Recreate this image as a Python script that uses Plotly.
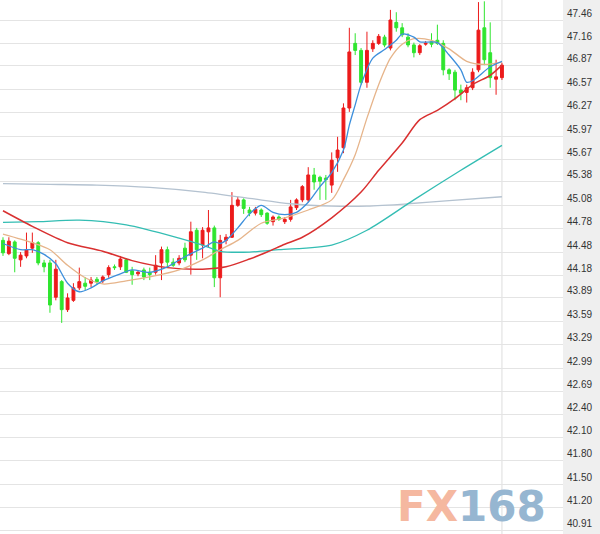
import plotly.graph_objects as go

# ---------------- data ----------------
idx = list(range(86))
opens = [44.63,44.46,44.61,44.38,44.43,44.53,44.60,44.34,44.34,43.90,
         44.10,43.74,43.86,44.02,44.08,44.08,44.13,44.11,44.19,44.29,
         44.29,44.38,44.24,44.20,44.25,44.22,44.22,44.34,44.51,44.35,
         44.34,44.53,44.44,44.76,44.57,44.74,44.79,44.15,44.63,44.67,
         45.08,45.15,45.02,44.98,45.02,44.98,44.87,44.93,44.87,44.90,
         45.05,45.15,45.15,45.47,45.44,45.43,45.34,45.69,45.82,46.33,
         47.16,47.07,46.66,47.09,47.16,47.24,47.10,47.43,47.36,47.24,
         47.14,47.04,47.15,47.18,47.20,47.16,46.82,46.79,46.56,46.53,
         46.59,46.82,47.36,47.04,46.70,46.72]
highs = [44.67,44.67,44.63,44.48,44.73,44.73,44.62,44.38,44.38,44.38,
         44.12,43.95,44.08,44.28,44.16,44.16,44.16,44.18,44.31,44.32,
         44.43,44.40,44.29,44.25,44.28,44.28,44.44,44.55,44.55,44.40,
         44.44,44.60,44.87,44.79,44.80,45.02,44.82,44.70,44.71,45.25,
         45.19,45.17,45.06,45.06,45.04,44.99,44.95,44.95,44.93,45.15,
         45.17,45.34,45.57,45.56,45.46,45.47,45.76,45.96,46.39,47.36,
         47.29,47.10,47.31,47.20,47.28,47.27,47.59,47.56,47.42,47.29,
         47.17,47.15,47.19,47.29,47.40,47.20,46.84,46.82,46.63,46.63,
         46.84,47.69,47.70,47.43,46.95,46.91]
lows = [44.43,44.44,44.22,44.29,44.40,44.47,44.31,44.22,43.70,43.86,
        43.57,43.71,43.84,43.99,43.99,44.03,44.06,44.08,44.15,44.25,
        44.25,44.21,44.06,44.17,44.12,44.12,44.19,44.12,44.28,44.29,
        44.31,44.35,44.19,44.38,44.40,44.54,44.03,43.90,44.58,44.66,
        45.06,44.97,44.94,44.95,44.93,44.83,44.82,44.88,44.84,44.87,
        45.02,45.12,45.12,45.28,45.15,45.15,45.24,45.51,45.75,46.28,
        47.01,46.63,46.59,47.05,47.14,47.11,47.07,47.31,47.24,47.11,
        46.98,47.01,47.13,47.11,47.14,46.75,46.69,46.43,46.43,46.40,
        46.56,46.79,46.88,46.59,46.50,46.69]
closes = [44.47,44.62,44.40,44.44,44.51,44.60,44.34,44.29,43.80,44.26,
          43.74,43.89,44.02,44.10,44.04,44.12,44.10,44.16,44.28,44.28,
          44.39,44.22,44.19,44.22,44.16,44.19,44.31,44.51,44.35,44.31,
          44.40,44.38,44.74,44.51,44.76,44.79,44.15,44.63,44.67,45.08,
          45.15,45.04,44.98,45.03,44.96,44.85,44.93,44.90,44.90,45.06,
          45.15,45.32,45.47,45.38,45.39,45.41,45.66,45.79,46.33,47.05,
          47.07,46.66,47.07,47.16,47.25,47.14,47.46,47.36,47.27,47.14,
          47.04,47.13,47.16,47.15,47.16,46.82,46.77,46.56,46.52,46.59,
          46.79,47.33,46.95,46.72,46.73,46.88]

# moving-average lines (read at selected candle positions)
ma5_x = [0,3,5,7,9,11,13,15,17,20,22,25,28,31,34,36,37,38,40,42,44,46,48,50,
         52,54,56,58,59,60,61,63,65,67,68,70,71,74,76,78,79,80,83,85]
ma5_y = [44.59,44.51,44.51,44.45,44.33,44.08,43.97,44.02,44.11,44.20,44.25,
         44.22,44.29,44.42,44.53,44.61,44.59,44.63,44.79,44.97,45.08,44.99,
         44.96,44.99,45.12,45.32,45.50,45.79,46.11,46.37,46.63,46.97,47.08,
         47.20,47.28,47.24,47.18,47.17,47.01,46.82,46.66,46.68,46.86,46.93]

ma10_x = [0,5,8,11,14,17,21,25,30,34,37,40,44,48,52,56,58,60,62,64,66,68,70,
          73,76,79,82,85]
ma10_y = [44.71,44.60,44.51,44.31,44.15,44.07,44.11,44.16,44.25,44.38,44.51,
          44.63,44.85,44.92,45.02,45.15,45.41,45.73,46.20,46.63,46.97,47.15,
          47.22,47.20,47.09,46.93,46.89,46.92]

ma20_x = [0,5,11,17,22,28,34,38,42,45,48,51,56,61,64,68,71,74,77,80,83,85]
ma20_y = [45.01,44.81,44.60,44.49,44.37,44.28,44.26,44.29,44.39,44.48,44.58,
          44.67,44.92,45.25,45.53,45.88,46.18,46.30,46.45,46.63,46.75,46.88]

ma60_x = [0,6,13,21,30,34,37,42,47,56,62,70,78,85]
ma60_y = [44.86,44.87,44.89,44.83,44.66,44.57,44.49,44.48,44.51,44.57,44.76,
          45.15,45.53,45.85]

ma120_x = [0,8,16,25,34,42,49,56,62,69,76,85]
ma120_y = [45.36,45.35,45.34,45.31,45.25,45.17,45.10,45.07,45.07,45.10,45.14,
           45.19]

tick_vals = [47.46,47.16,46.87,46.57,46.27,45.97,45.67,45.38,45.08,44.78,44.48,
             44.18,43.89,43.59,43.29,42.99,42.69,42.40,42.10,41.80,41.50,41.20,
             40.91]
tick_text = ["%.2f" % v for v in tick_vals]

# ---------------- figure ----------------
RED = "#ec1b1b"
GREEN = "#2fe52f"

fig = go.Figure()
fig.add_trace(go.Candlestick(
    x=idx, open=opens, high=highs, low=lows, close=closes,
    increasing=dict(line=dict(color=RED, width=1), fillcolor=RED),
    decreasing=dict(line=dict(color=GREEN, width=1), fillcolor=GREEN),
    whiskerwidth=0, hoverinfo="skip", showlegend=False))

def add_line(xs, ys, color, w=1.3):
    fig.add_trace(go.Scatter(x=xs, y=ys, mode="lines",
                             line=dict(color=color, width=w, shape="spline", smoothing=0.8),
                             hoverinfo="skip", showlegend=False))

add_line(ma120_x, ma120_y, "#b4c2d0")
add_line(ma60_x, ma60_y, "#33bdb3")
add_line(ma20_x, ma20_y, "#d93030", 1.5)
add_line(ma10_x, ma10_y, "#e6b48a")
add_line(ma5_x, ma5_y, "#3d8fdc")

fig.update_layout(
    width=600, height=534,
    margin=dict(l=0, r=37, t=0, b=0),
    paper_bgcolor="white", plot_bgcolor="white",
    xaxis=dict(range=[-0.51, 95.4], showgrid=False, zeroline=False,
               showticklabels=False, rangeslider=dict(visible=False),
               showline=False, fixedrange=True),
    yaxis=dict(range=[40.859, 47.717], side="right", tickmode="array",
               tickvals=tick_vals, ticktext=tick_text, fixedrange=True,
               showgrid=True, gridcolor="#e4e4e4", gridwidth=1,
               zeroline=False, showline=False, ticks="",
               ticklabelposition="outside top", ticklabelstandoff=3,
               tickfont=dict(family="Liberation Sans, Arial", size=10, color="#333333")),
    shapes=[
        dict(type="rect", xref="paper", yref="paper", x0=1, x1=1 + 37 / 563,
             y0=0, y1=1, fillcolor="#efefef", line=dict(width=0), layer="below"),
        dict(type="line", xref="x", yref="paper", x0=idx[-1], x1=idx[-1],
             y0=0, y1=1, line=dict(color="#dddddd", width=1), layer="below"),
    ],
    annotations=[
        dict(xref="paper", yref="paper", x=0.838, y=0.052,
             xanchor="center", yanchor="middle", showarrow=False,
             text="<b><span style='color:#f5b8a0'>FX</span><span style='color:#96b6d1'>168</span></b>",
             font=dict(family="DejaVu Sans", size=42)),
    ],
)

fig.write_html("out.html", config={"displayModeBar": False, "staticPlot": True},
               post_script="document.body.style.margin='0';document.body.style.overflow='hidden';")
